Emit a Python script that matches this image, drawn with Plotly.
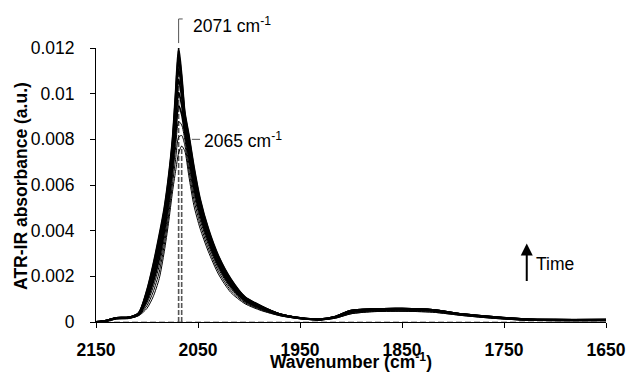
import plotly.graph_objects as go

# ---------------- data ----------------
wavenumber = [2150, 2140, 2130, 2118, 2108, 2100, 2094, 2088, 2083, 2079, 2075, 2072,
              2069, 2066, 2063, 2059, 2054, 2048, 2040, 2030, 2018, 2004, 1988, 1970,
              1950, 1930, 1915, 1900, 1880, 1850, 1820, 1790, 1760, 1730, 1700, 1650]

spec_01 = [0, 0.00003, 0.00014, 0.00016, 0.00028, 0.0006, 0.0011, 0.0019, 0.0031, 0.0043, 0.0057, 0.0066,
           0.0074, 0.0077, 0.0075, 0.0064, 0.0051, 0.0041, 0.0031, 0.0021, 0.0013, 0.0008, 0.0005, 0.00028,
           0.00014, 0.00009, 0.00017, 0.00036, 0.00045, 0.00047, 0.00043, 0.00028, 0.00016, 0.00008, 0.00006, 0.00006]
spec_02 = [0, 0.00003, 0.00014, 0.00016, 0.0003, 0.00072, 0.00131, 0.00219, 0.00339, 0.0046, 0.00605, 0.00711,
           0.00809, 0.00817, 0.00776, 0.00667, 0.00536, 0.0043, 0.00325, 0.00222, 0.00139, 0.00085, 0.00053, 0.00028,
           0.00014, 0.00009, 0.00017, 0.00036, 0.00045, 0.00047, 0.00043, 0.00028, 0.00016, 0.00008, 0.00006, 0.00006]
spec_03 = [0, 0.00003, 0.00014, 0.00016, 0.00032, 0.00084, 0.00152, 0.00247, 0.00367, 0.0049, 0.00639, 0.00762,
           0.00878, 0.00863, 0.00801, 0.00694, 0.00561, 0.00449, 0.0034, 0.00234, 0.00148, 0.00089, 0.00056, 0.0003,
           0.00015, 0.0001, 0.0002, 0.0004, 0.0005, 0.00052, 0.00048, 0.00031, 0.00018, 0.00009, 0.00007, 0.00007]
spec_04 = [0, 0.00004, 0.00015, 0.00017, 0.00033, 0.00096, 0.00173, 0.00276, 0.00396, 0.0052, 0.00674, 0.00813,
           0.00947, 0.0091, 0.00827, 0.00721, 0.00587, 0.00469, 0.00355, 0.00246, 0.00157, 0.00094, 0.00059, 0.00031,
           0.00016, 0.0001, 0.0002, 0.00042, 0.0005, 0.00053, 0.00049, 0.00031, 0.00019, 0.0001, 0.00007, 0.00007]
spec_05 = [0, 0.00005, 0.00017, 0.00019, 0.00035, 0.00106, 0.00191, 0.003, 0.0042, 0.00546, 0.00703, 0.00857,
           0.01007, 0.0095, 0.00849, 0.00744, 0.00609, 0.00485, 0.00368, 0.00256, 0.00165, 0.00097, 0.00062, 0.00033,
           0.00017, 0.00011, 0.00022, 0.00046, 0.00053, 0.00055, 0.0005, 0.00032, 0.0002, 0.00011, 0.00008, 0.00008]
spec_06 = [0, 0.00006, 0.00018, 0.0002, 0.00036, 0.00116, 0.00208, 0.00323, 0.00443, 0.0057, 0.00731, 0.00898,
           0.01062, 0.00987, 0.00869, 0.00766, 0.00629, 0.00501, 0.0038, 0.00266, 0.00172, 0.00101, 0.00064, 0.00034,
           0.00017, 0.00012, 0.00023, 0.00048, 0.00055, 0.00057, 0.00052, 0.00033, 0.00021, 0.00012, 0.00009, 0.00009]
spec_07 = [0, 0.00006, 0.00018, 0.0002, 0.00038, 0.00124, 0.00222, 0.00342, 0.00462, 0.0059, 0.00754, 0.00932,
           0.01108, 0.01018, 0.00886, 0.00784, 0.00646, 0.00514, 0.0039, 0.00274, 0.00178, 0.00104, 0.00066, 0.00035,
           0.00018, 0.00012, 0.00024, 0.0005, 0.00056, 0.00058, 0.00053, 0.00034, 0.00022, 0.00012, 0.0001, 0.0001]
spec_08 = [0, 0.00006, 0.00018, 0.0002, 0.00039, 0.0013, 0.00233, 0.00357, 0.00477, 0.00606, 0.00772, 0.00959,
           0.01145, 0.01043, 0.009, 0.00798, 0.0066, 0.00524, 0.00398, 0.0028, 0.00183, 0.00106, 0.00068, 0.00035,
           0.00018, 0.00012, 0.00024, 0.0005, 0.00056, 0.00058, 0.00053, 0.00034, 0.00022, 0.00013, 0.0001, 0.0001]
spec_09 = [0, 0.00006, 0.00018, 0.0002, 0.00039, 0.00136, 0.00243, 0.0037, 0.0049, 0.0062, 0.00789, 0.00983,
           0.01177, 0.01064, 0.00911, 0.00811, 0.00671, 0.00533, 0.00405, 0.00286, 0.00187, 0.00109, 0.00069, 0.00035,
           0.00018, 0.00012, 0.00024, 0.0005, 0.00056, 0.00058, 0.00053, 0.00034, 0.00022, 0.00013, 0.0001, 0.0001]
spec_10 = [0, 0.00006, 0.00018, 0.0002, 0.0004, 0.0014, 0.0025, 0.0038, 0.005, 0.0063, 0.008, 0.0100,
           0.0120, 0.0108, 0.0092, 0.0082, 0.0068, 0.0054, 0.0041, 0.0029, 0.0019, 0.0011, 0.0007, 0.00035,
           0.00018, 0.00012, 0.00024, 0.0005, 0.00056, 0.00058, 0.00053, 0.00034, 0.00022, 0.00013, 0.0001, 0.0001]

spectra = [spec_01, spec_02, spec_03, spec_04, spec_05, spec_06, spec_07, spec_08, spec_09, spec_10]

baseline_wn = [2150, 1650]
baseline_abs = [0, 0]

x_tick_vals = [2150, 2050, 1950, 1850, 1750, 1650]
x_tick_text = ["2150", "2050", "1950", "1850", "1750", "1650"]
y_tick_vals = [0, 0.002, 0.004, 0.006, 0.008, 0.010, 0.012]
y_tick_text = ["0", "0.002", "0.004", "0.006", "0.008", "0.01", "0.012"]

peak_labels = ["2071 cm<sup>-1</sup>", "2065 cm<sup>-1</sup>"]

# ---------------- figure ----------------
FONT = "Arial, 'Liberation Sans', sans-serif"
FS = 17.5

fig = go.Figure()

fig.add_trace(go.Scatter(x=baseline_wn, y=baseline_abs, mode="lines",
                         line=dict(color="#808080", width=1.2, dash="6px,3px"),
                         showlegend=False, hoverinfo="skip"))

# dashed peak markers (last and first spectrum maxima)
def peak_of(spec):
    i = max(range(len(spec)), key=lambda k: spec[k])
    return wavenumber[i], spec[i]

for spec in (spec_10, spec_01):
    pw, pa = peak_of(spec)
    fig.add_trace(go.Scatter(x=[pw, pw], y=[0, pa], mode="lines",
                             line=dict(color="#555555", width=1.6, dash="5px,2px"),
                             showlegend=False, hoverinfo="skip"))

for i, spec in enumerate(spectra):
    w = 1.0 if i < 3 else 1.8
    fig.add_trace(go.Scatter(x=wavenumber, y=spec, mode="lines",
                             line=dict(color="black", width=w, shape="spline", smoothing=0.7),
                             showlegend=False, hoverinfo="skip"))

# leader line for the 2071 label (vertical then short horizontal)
p_last_w, p_last_a = peak_of(spec_10)
fig.add_shape(type="path", xref="x", yref="paper",
              path=f"M {p_last_w},1.018 L {p_last_w},1.106 L {p_last_w-4},1.106",
              line=dict(color="#555555", width=1))
fig.add_annotation(x=p_last_w - 12, y=1.083, xref="x", yref="paper", text=peak_labels[0],
                   showarrow=False, xanchor="left", yanchor="middle",
                   font=dict(family=FONT, size=FS, color="black"))

# leader line for the 2065 label
fig.add_shape(type="line", xref="x", yref="y", x0=2056, x1=2048, y0=0.0080, y1=0.0080,
              line=dict(color="#555555", width=1))
fig.add_annotation(x=2046.5, y=0.00797, xref="x", yref="y", text=peak_labels[1],
                   showarrow=False, xanchor="left", yanchor="middle",
                   font=dict(family=FONT, size=FS, color="black"))

# Time arrow
fig.add_annotation(x=1727.7, y=0.00344, ax=1727.7, ay=0.00173, xref="x", yref="y",
                   axref="x", ayref="y", text="", showarrow=True,
                   arrowhead=2, arrowsize=1.2, arrowwidth=2, arrowcolor="black")
fig.add_annotation(x=1720.5, y=0.00256, xref="x", yref="y", text="Time",
                   showarrow=False, xanchor="left", yanchor="middle",
                   font=dict(family=FONT, size=FS, color="black"))

# axis titles
fig.add_annotation(x=0.5, y=-0.143, xref="paper", yref="paper",
                   text="<b>Wavenumber (cm<sup>-1</sup>)</b>", showarrow=False,
                   xanchor="center", yanchor="middle",
                   font=dict(family=FONT, size=FS, color="black"))
fig.add_annotation(x=-0.146, y=0.495, xref="paper", yref="paper",
                   text="<b>ATR-IR absorbance (a.u.)</b>", showarrow=False, textangle=-90,
                   xanchor="center", yanchor="middle",
                   font=dict(family=FONT, size=FS, color="black"))

fig.update_layout(
    width=627, height=373,
    margin=dict(l=96, r=21, t=48, b=51, autoexpand=False),
    paper_bgcolor="white", plot_bgcolor="white",
    showlegend=False,
    xaxis=dict(range=[2150, 1650], tickvals=x_tick_vals, ticktext=x_tick_text, automargin=False,
               showgrid=False, zeroline=False, showline=True, linecolor="black", linewidth=1,
               ticks="outside", ticklen=5, tickcolor="black", ticklabelstandoff=7,
               tickfont=dict(family=FONT, size=FS, color="black", weight="bold")),
    yaxis=dict(range=[0, 0.012], tickvals=y_tick_vals, ticktext=y_tick_text, automargin=False,
               showgrid=False, zeroline=False, showline=True, linecolor="black", linewidth=1,
               ticks="outside", ticklen=5, tickcolor="black", ticklabelstandoff=12,
               tickfont=dict(family=FONT, size=FS, color="black")),
)

fig.write_html("out.html")
